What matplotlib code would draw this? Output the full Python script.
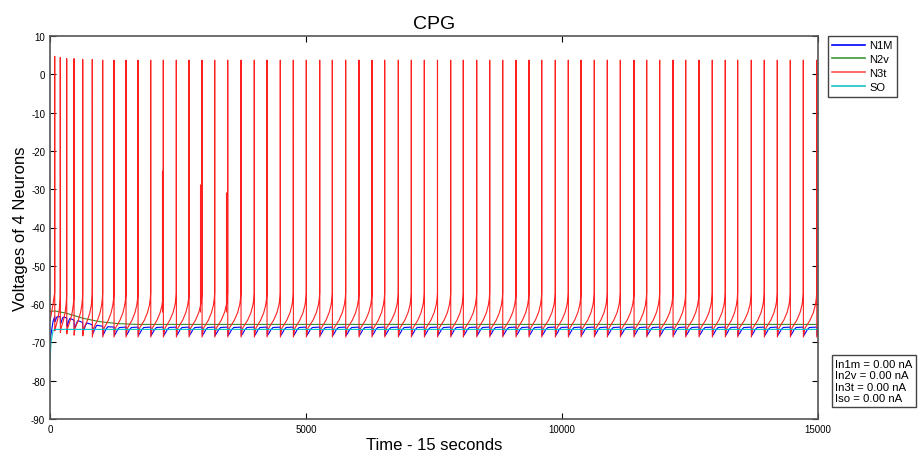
import numpy as np
import matplotlib.pyplot as plt

plt.rcParams['font.family'] = ['Liberation Sans', 'DejaVu Sans']
plt.rcParams['axes.unicode_minus'] = False

# spike times of N3t (ms)
spike_times = [92, 201, 326, 469, 639, 826, 1029, 1250, 1484, 1719, 1967, 2213,
               2467, 2715, 2969, 3217, 3471, 3730, 3990, 4238, 4498, 4752, 5006,
               5268, 5514, 5775, 6035, 6289, 6537, 6803, 7057, 7311, 7568, 7826,
               8072, 8334, 8588, 8842, 9102, 9355, 9604, 9869, 10123, 10371,
               10631, 10885, 11139, 11406, 11654, 11908, 12168, 12416, 12676,
               12935, 13189, 13431, 13697, 13951, 14205, 14459, 14713, 14975]
early_peaks = [4.7, 4.4, 4.1, 4.1, 3.9, 3.9]
late_peak = 3.7
early_troughs = [-67.0, -67.4, -67.8, -68.1, -68.3]
late_trough = -68.6

# shape of the N3t ramp between two spikes (fraction of interval, mV)
ramp_phase = [0.12, 0.3, 0.5, 0.75, 0.9, 0.97]
ramp_volt = [-66.3, -65.3, -64.2, -62.2, -60.2, -58.5]

# small failed spikes
partial_times = [2185, 2925, 3440]
partial_peaks = [-25.0, -28.6, -30.7]

# N1M: dip after each N3t spike
blue_hi_early = [-63.2, -63.3, -63.6, -64.2, -64.8, -65.4, -65.8]
blue_lo_early = [-64.6, -65.2, -65.8, -66.5, -67.2, -67.8, -68.1]
blue_hi, blue_lo = -66.0, -68.2
dip_phase = [0.0, 0.03, 0.15, 0.3, 0.45, 1.0]
dip_weight = [1.0, 0.0, 0.28, 0.7, 0.95, 1.0]

# N2v and SO
green_t = [0, 100, 326, 645, 977, 1330, 1700, 15000]
green_v = [-61.9, -61.8, -62.4, -63.7, -64.6, -65.1, -65.3, -65.3]
cyan_t = [0, 20, 60, 100, 15000]
cyan_v = [-75.0, -70.0, -66.8, -66.6, -66.6]

currents = ['In1m = 0.00 nA', 'In2v = 0.00 nA', 'In3t = 0.00 nA', 'Iso = 0.00 nA']

# build traces from the keypoints
n = len(spike_times)
rt, rv = [0, 60], [-64.5, -60.0]
bt, bv = [0, 60], [-69.5, -64.5]
for i, ts in enumerate(spike_times):
    nxt = spike_times[i + 1] if i + 1 < n else ts + 254
    dur = nxt - ts
    peak = early_peaks[i] if i < len(early_peaks) else late_peak
    trough = early_troughs[i] if i < len(early_troughs) else late_trough
    rt += [ts - 1, ts, ts + 1.5]
    rv += [-57.0, peak, trough]
    rt += [ts + p * dur for p in ramp_phase]
    rv += ramp_volt
    hi = blue_hi_early[i] if i < len(blue_hi_early) else blue_hi
    lo = blue_lo_early[i] if i < len(blue_lo_early) else blue_lo
    bt += [ts + p * dur for p in dip_phase[:-1]]
    bv += [lo + w * (hi - lo) for w in dip_weight[:-1]]

fig = plt.figure(figsize=(9.19, 4.6), dpi=100)
ax = fig.add_axes([50 / 919, 40 / 460, 768 / 919, 383 / 460])

lw = 0.8
ax.plot(bt, bv, color='#0000ff', lw=lw)
ax.plot(green_t, green_v, color='#2e8b2e', lw=lw)
ax.plot(rt, rv, color='#ff2020', lw=lw)
ax.vlines(partial_times, -62, partial_peaks, color='#ff2020', lw=lw)
ax.plot(cyan_t, cyan_v, color='#00c0c8', lw=lw)

ax.set_xlim(0, 15000)
ax.set_ylim(-90, 10)
ax.set_xticks([0, 5000, 10000, 15000])
ax.set_yticks(np.arange(-90, 11, 10))
ax.tick_params(direction='in', length=4, labelsize=7, top=True, right=True, width=0.8)
for s in ax.spines.values():
    s.set_color('#555555')
    s.set_linewidth(1.2)

ax.set_title('CPG', fontsize=14, pad=6)
ax.set_xlabel('Time - 15 seconds', fontsize=12, labelpad=2)
ax.set_ylabel('Voltages of 4 Neurons', fontsize=12, labelpad=2)

handles = [plt.Line2D([], [], color=c, lw=1.2) for c in ['#0000ff', '#3a9a3a', '#ff5050', '#20c0c0']]
fig.legend(handles, ['N1M', 'N2v', 'N3t', 'SO'], loc='upper left',
           bbox_to_anchor=(828 / 919, 1 - 37 / 460), fontsize=8,
           fancybox=False, edgecolor='#444444', framealpha=1, borderaxespad=0,
           handlelength=2.9, labelspacing=0.35, borderpad=0.4, handletextpad=0.4)

fig.text(835 / 919, 1 - 382 / 460, '\n'.join(currents), fontsize=8.2, va='center', ha='left',
         linespacing=1.2,
         bbox=dict(boxstyle='square,pad=0.3', fc='white', ec='#444444', lw=1))

fig.savefig('out.png', dpi=100)
